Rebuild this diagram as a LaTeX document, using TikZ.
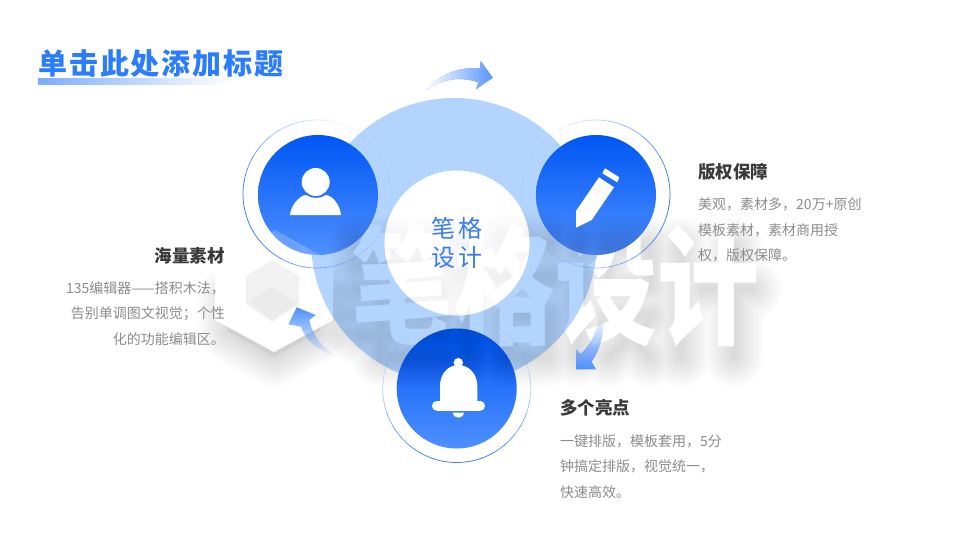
\documentclass[tikz,border=0pt]{standalone}
\usepackage{fontspec}
\usepackage{graphicx}
\usetikzlibrary{fadings}
\setmainfont{Noto Sans CJK SC}
\definecolor{bluetop}{HTML}{0057F5}
\definecolor{bluebot}{HTML}{4F90FF}
\definecolor{pale}{HTML}{B3D4FF}
\definecolor{titleblue}{HTML}{2B7CFF}
\definecolor{centerblue}{HTML}{3B7CEB}
\definecolor{ringblue}{HTML}{3F82F5}
\definecolor{head}{HTML}{3A3A3A}
\definecolor{body}{HTML}{8C8C8C}
\tikzset{
  disc/.style={top color=bluetop,bottom color=bluebot,draw=none},
  arrowshape/.style={draw=none,fill=bluebot},
  headtext/.style={font=\fontsize{17.5}{20}\selectfont\bfseries,text=head,inner sep=0pt},
  bodytext/.style={font=\fontsize{14}{25.6}\selectfont,text=body,inner sep=0pt},
  shadowlayer/.style={draw=black,opacity=.012,line cap=round,line join=round}
}
\newcommand{\glyphstrokes}{
  (358,232)--(442,232) (358,250)--(442,250)
  (358,275)--(442,275) (358,300)--(442,300) (358,320)--(442,320)
  (381,275)--(381,342)--(442,342)
  (468,232)--(468,342) (458,262)--(490,262)
  (505,228)--(550,228) (500,262)--(550,262)
  (508,300)--(548,300)--(548,342)--(508,342)--cycle
  (578,232)--(580,232) (578,262)--(578,342)
  (607,232)--(607,272)--(650,272)--(650,232)--cycle
  (607,300)--(652,300) (612,305)--(650,342) (650,305)--(608,342)
  (681,232)--(681,342) (703,274)--(752,274) (734,232)--(734,342)
}
\newcommand{\hexshadow}{(228,282) -- (275,256) -- (320,282) -- (320,316) -- (274,342) -- (228,316) -- cycle}
\newcommand{\allshadow}{
  \begin{scope}[yshift=-15pt]
    \foreach \w in {5,10,...,60}{
      \draw[shadowlayer,line width=\w pt] \glyphstrokes;
      \draw[shadowlayer,fill=black,fill opacity=.004,line width=\w pt] \hexshadow;
    }
  \end{scope}
}
\newcommand{\ringarcs}[5]{% cx cy r strong-angle min-opacity
  \foreach \a in {0,10,...,350}{
    \pgfmathsetmacro{\op}{max(#5,((1+cos(\a+5-#4))/2)^1.6)}
    \draw[ringblue,line width=.8pt,draw opacity=\op]
      ({#1+#3*cos(\a)},{#2-#3*sin(\a)}) arc[start angle=-\a,end angle=-\a-10.5,radius=#3];
  }
}
\begin{document}
\begin{tikzpicture}[x=1pt,y=-1pt]
\useasboundingbox (0,0) rectangle (960,540);
\fill[white] (0,0) rectangle (960,540);
% title
\fill[left color=bluebot!75!white,right color=white] (38,79) rectangle (230,85);
\node[anchor=west,inner sep=0pt,text=titleblue,font=\fontsize{29}{32}\selectfont\bfseries\addfontfeature{LetterSpace=6.6}] (title) at (38,64) {单击此处添加标题};
% top arrow
\path[arrowshape,left color=white,right color=bluebot!95!white]
  (427.3,90) .. controls (438,75) and (458,66.5) .. (480,68.3) -- (480.7,61) -- (492.7,77.7) -- (476,89.3) -- (478.3,82.3)
  .. controls (460,76) and (442,79) .. (427.3,90) -- cycle;
% watermark: shadow, logo, letters
\allshadow
\fill[white] (275,230) -- (333,262) -- (333,320) -- (274,352) -- (215,320) -- (215,262) -- cycle;
\fill[black!5] (246,276) -- (272,260) -- (299,276) -- (299,304) -- (272,322) -- (246,304) -- cycle;
\fill[black!8] (248,302) -- (271,287) -- (298,302) -- (272,320) -- cycle;
\node[inner sep=0pt,text=white,font=\fontsize{102}{110}\selectfont\bfseries] (mark) at (555,285) {\scalebox{1}[1.27]{笔格设计}};
% large ring laid over the watermark
\fill[pale,blend mode=multiply,even odd rule] (454,241) circle[radius=143] (457,243) circle[radius=72.5];
\fill[white,opacity=.6] (457,243) circle[radius=72.5];
% rings
\ringarcs{317}{194}{74}{200}{.06}
\ringarcs{596}{194}{74}{-5}{.06}
\ringarcs{456.7}{388.5}{74}{-90}{.06}
% discs
\shade[disc] (318,195) circle[radius=60];
\shade[disc] (596,195) circle[radius=60];
\shade[disc] (456.7,388.5) circle[radius=60];
\begin{scope}
  \clip (318,195) circle[radius=60] (596,195) circle[radius=60] (456.7,388.5) circle[radius=60];
  \allshadow
  \fill[white,opacity=.2] (275,230) -- (333,262) -- (333,320) -- (274,352) -- (215,320) -- (215,262) -- cycle;
\end{scope}
% user icon
\fill[white] (290,215) .. controls (291,205) and (300,195) .. (306,195) .. controls (312,199) and (320,199) .. (326,195) .. controls (333,196) and (340,205) .. (341,215) -- cycle;
\fill[white] (315.7,182) circle[radius=14];
% pen icon
\fill[white] (605,168.3) -- (619.3,177.3) -- (617.3,182.3) -- (602.3,173.3) -- cycle;
\fill[white] (576,227.7) -- (576,211) -- (599,177.3) -- (614,187.3) -- (591.7,220) -- cycle;
% bell icon
\fill[white] (458.3,362.7) circle[radius=4.7];
\fill[white] (440,403) -- (440,386) .. controls (440,373) and (449,365) .. (458.3,365) .. controls (468,365) and (477.3,373) .. (477.3,386) -- (477.3,403) -- cycle;
\fill[white,rounded corners=4.8pt] (432,401) rectangle (485,410.8);
\fill[white] (464,412.7) arc[start angle=0,end angle=180,x radius=5.65,y radius=5] -- cycle;
% side arrows
\fill[arrowshape,path fading=south]
  (296.7,307.3) -- (315.7,315) -- (309.3,320) .. controls (313,338) and (325,350) .. (338.3,356.7)
  .. controls (322,354) and (306,342) .. (301,326.7) -- (288.3,324.3) -- cycle;
\fill[arrowshape,path fading=north]
  (603.3,320) .. controls (604,335) and (600,350) .. (591.7,361.7) -- (596,369.3) -- (576,369.3) -- (576,349) -- (580.7,354)
  .. controls (590,345) and (597,332) .. (599.3,316.7) -- cycle;
% center text
\node[inner sep=0pt,text=centerblue,align=left,font=\fontsize{24}{29}\selectfont\addfontfeature{LetterSpace=12}] (center) at (457,243) {笔格\\设计};
% texts
\node[headtext,anchor=west] (h1) at (698,172) {版权保障};
\node[bodytext,anchor=north west,align=left] (b1) at (698,197.5) {美观，素材多，20万+原创\\模板素材，素材商用授\\权，版权保障。};
\node[headtext,anchor=east] (h2) at (225,256) {海量素材};
\node[bodytext,anchor=north east,align=right] (b2) at (225,281) {135编辑器——搭积木法，\\告别单调图文视觉；个性\\化的功能编辑区。};
\node[headtext,anchor=west] (h3) at (560,408) {多个亮点};
\node[bodytext,anchor=north west,align=left] (b3) at (560,434) {一键排版，模板套用，5分\\钟搞定排版，视觉统一，\\快速高效。};
\end{tikzpicture}
\end{document}
